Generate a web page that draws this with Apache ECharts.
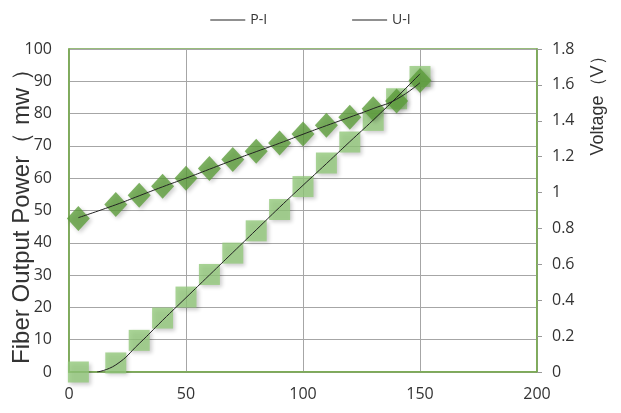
<!DOCTYPE html>
<html>
<head>
<meta charset="utf-8">
<script src="https://cdn.jsdelivr.net/npm/echarts@6/dist/echarts.min.js"></script>
<style>
  html, body { margin: 0; padding: 0; background: #fff; }
  #chart { width: 621px; height: 413px; }
</style>
</head>
<body>
<div id="chart"></div>
<script>
// Current (mA) and measured points
const current = [4, 20, 30, 40, 50, 60, 70, 80, 90, 100, 110, 120, 130, 140, 150];
const power = [0, 2.8, 9.8, 16.7, 23.2, 30.2, 36.8, 43.7, 50.3, 57.4, 64.7, 71.2, 77.9, 84.6, 91.5];
const voltage = [0.855, 0.934, 0.985, 1.035, 1.08, 1.134, 1.184, 1.23, 1.276, 1.326, 1.375, 1.42, 1.467, 1.51, 1.625];

// Trendlines
const trendPI = [[12, 0], [20, 2.2], [30, 8.8], [40, 16], [50, 23], [60, 30], [70, 37], [80, 44],
                 [90, 51], [100, 57.8], [110, 64.5], [120, 71.3], [130, 78], [140, 85], [150, 92.3]];
const trendUI = [[4, 0.86], [20, 0.932], [30, 0.982], [40, 1.032], [50, 1.08], [60, 1.13], [70, 1.18],
                 [80, 1.228], [90, 1.275], [100, 1.325], [110, 1.373], [120, 1.42], [130, 1.468], [140, 1.52], [150, 1.612]];

const xTicks = [0, 50, 100, 150, 200];

document.addEventListener("DOMContentLoaded", function () {
    let chart = echarts.init(document.getElementById("chart"));
    const font = "'Open Sans', 'Noto Sans', sans-serif";
    const nameFont = "'Liberation Sans', Arial, sans-serif";
    const green = '#77a84f';

    let option = {
        animation: false,
        textStyle: { fontFamily: font },
        legend: {
            top: 8,
            left: 'center',
            itemWidth: 35,
            itemGap: 85,
            icon: 'path://M0,0 L35,0 L35,1.2 L0,1.2 Z',
            data: ['P-I', 'U-I'],
            textStyle: { fontSize: 14, color: '#333', fontFamily: font }
        },
        grid: {
            left: 69, right: 84, top: 49, bottom: 41,
            outerBoundsMode: 'none',
            show: true, borderColor: green, borderWidth: 1.5
        },
        xAxis: {
            type: 'value',
            min: xTicks[0],
            max: xTicks[xTicks.length - 1],
            interval: 50,
            axisLine: { show: true, lineStyle: { color: green, width: 1.5 } },
            axisTick: { show: false },
            axisLabel: { fontSize: 16, color: '#333', margin: 14 },
            splitLine: { show: true, lineStyle: { color: '#a6a6a6' } }
        },
        yAxis: [
            {
                type: 'value',
                min: 0, max: 100, interval: 10,
                name: 'Fiber Output Power（ mw ）',
                nameLocation: 'middle',
                nameGap: 35,
                nameMoveOverlap: false,
                nameTextStyle: { fontSize: 24, color: '#333', fontFamily: nameFont },
                axisLine: { show: true, lineStyle: { color: green, width: 1.5 } },
                axisTick: { show: false },
                axisLabel: { fontSize: 16, color: '#333', margin: 17 },
                splitLine: { show: true, lineStyle: { color: '#a6a6a6' } }
            },
            {
                type: 'value',
                min: 0, max: 1.8, interval: 0.2,
                position: 'right',
                name: 'Voltage（V）',
                nameLocation: 'middle',
                nameGap: 52,
                nameRotate: 90,
                nameMoveOverlap: false,
                nameTextStyle: { fontSize: 18, color: '#333', fontFamily: nameFont, padding: [0, 0, 0, 218] },
                axisLine: { show: true, lineStyle: { color: green, width: 1.5 } },
                axisTick: { show: true, length: 5, lineStyle: { color: '#999' } },
                axisLabel: {
                    fontSize: 16, color: '#333', margin: 15,
                    formatter: function (v) { return String(Math.round(v * 10) / 10); }
                },
                splitLine: { show: false }
            }
        ],
        series: [
            {
                name: 'P-I points',
                type: 'scatter',
                yAxisIndex: 0,
                symbol: 'rect',
                symbolSize: 21,
                itemStyle: {
                    color: '#93c97c',
                    shadowColor: 'rgba(0,0,0,0.25)', shadowBlur: 4, shadowOffsetX: 2, shadowOffsetY: 2
                },
                data: current.map((c, i) => [c, power[i]])
            },
            {
                name: 'U-I points',
                type: 'scatter',
                yAxisIndex: 1,
                symbol: 'diamond',
                symbolSize: [23, 25],
                itemStyle: {
                    color: '#5c9e3b',
                    shadowColor: 'rgba(0,0,0,0.25)', shadowBlur: 4, shadowOffsetX: 2, shadowOffsetY: 2
                },
                data: current.map((c, i) => [c, voltage[i]])
            },
            {
                name: 'P-I',
                type: 'line',
                yAxisIndex: 0,
                smooth: true,
                symbol: 'none',
                itemStyle: { color: '#222' },
                lineStyle: { color: '#222', width: 1 },
                data: trendPI
            },
            {
                name: 'U-I',
                type: 'line',
                yAxisIndex: 1,
                smooth: true,
                symbol: 'none',
                itemStyle: { color: '#222' },
                lineStyle: { color: '#222', width: 1 },
                data: trendUI
            }
        ]
    };

    chart.setOption(option);
});
</script>
</body>
</html>
